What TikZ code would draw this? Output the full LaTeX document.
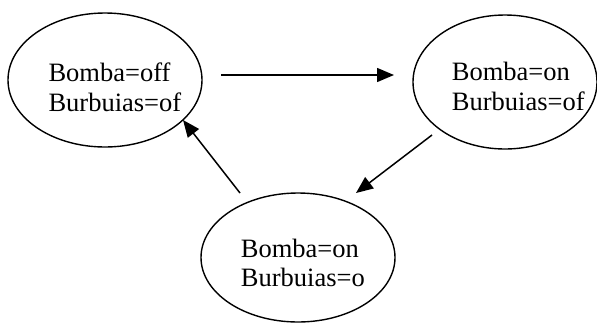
\documentclass[tikz,border=0pt]{standalone}
\usepackage{fontspec}
\setmainfont{Liberation Serif}
\usetikzlibrary{shapes.geometric,arrows.meta}
\begin{document}
\begin{tikzpicture}[x=1pt,y=-1pt,
  state/.style={draw=black,line width=1.4pt,ellipse,inner sep=0pt},
  lbl/.style={anchor=base west,inner sep=0pt,font=\fontsize{26.5}{30}\selectfont},
  conn/.style={line width=1.5pt,-{Triangle[length=17pt,width=14pt]}}]
\useasboundingbox (0,0) rectangle (597,325);
\node[state,minimum width=194pt,minimum height=134pt] (e1) at (105,80) {};
\node[state,minimum width=184pt,minimum height=134pt] (e2) at (505,82) {};
\node[state,minimum width=194pt,minimum height=129pt] (e3) at (298,257.5) {};
\node[lbl] (t1a) at (48.3,81.7) {Bomba=off};
\node[lbl] (t1b) at (48.3,111.7) {Burbuias=of};
\node[lbl] (t2a) at (451.7,80) {Bomba=on};
\node[lbl] (t2b) at (451.7,110) {Burbuias=of};
\node[lbl] (t3a) at (240.7,257.3) {Bomba=on};
\node[lbl] (t3b) at (240.7,286.7) {Burbuias=o};
\coordinate (a1s) at (221,75);
\coordinate (a1e) at (394,75);
\coordinate (a2s) at (432,135);
\coordinate (a2e) at (356,193);
\coordinate (a3s) at (240,193);
\coordinate (a3e) at (183,120);
\draw[conn] (a1s) -- (a1e);
\draw[conn] (a2s) -- (a2e);
\draw[conn] (a3s) -- (a3e);
\end{tikzpicture}
\end{document}
